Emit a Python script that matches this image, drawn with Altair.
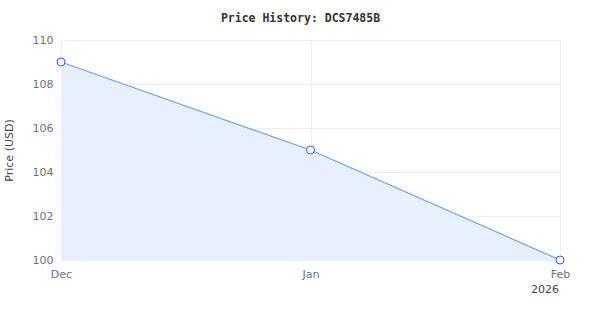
import altair as alt
import pandas as pd

dates = ["2025-12-01", "2026-01-01", "2026-02-01"]
prices = [109, 105, 100]
year_dates = ["2026-02-01"]
year_texts = ["2026"]
y_min, y_max = 100, 110

df = pd.DataFrame({"date": dates, "price": prices})
ydf = pd.DataFrame({"date": year_dates, "label": year_texts})

x = alt.X(
    "date:T",
    title=None,
    scale=alt.Scale(domain=["2025-12-01", "2026-02-01"], nice=False),
    axis=alt.Axis(
        values=dates,
        format="%b",
        labelColor="#6b7280",
        labelFont="DejaVu Sans",
        labelFontSize=11,
        labelPadding=8,
        ticks=False,
        domain=False,
        grid=True,
        gridColor="#eef0f3",
        labelFlush=False,
    ),
)
y = alt.Y(
    "price:Q",
    title="Price (USD)",
    scale=alt.Scale(domain=[y_min, y_max], nice=False, zero=False),
    axis=alt.Axis(
        values=[100, 102, 104, 106, 108, 110],
        labelColor="#6b7280",
        labelFont="DejaVu Sans",
        labelFontSize=11,
        labelPadding=8,
        ticks=False,
        domain=False,
        gridColor="#eceef1",
        titleColor="#444444",
        titleFont="DejaVu Sans",
        titleFontSize=11,
        titleFontWeight="normal",
        titlePadding=18,
    ),
)

base = alt.Chart(df).encode(x=x, y=y)
area = base.mark_area(color="#e8f0fd", opacity=1).encode(y2=alt.datum(y_min))
line = base.mark_line(color="#60a5fa", strokeWidth=1.2)
pts = base.mark_point(shape="circle", filled=True, fill="white", stroke="#2563eb",
                      strokeWidth=1, size=64, opacity=1)
year = alt.Chart(ydf).mark_text(align="right", baseline="middle", color="#444444",
                                font="DejaVu Sans", fontSize=11, dx=-1).encode(
    x=alt.X("date:T"), y=alt.value(250), text="label:N")

chart = alt.layer(area, line, pts, year).properties(
    width=499,
    height=220,
    title=alt.TitleParams(
        "Price History: DCS7485B",
        font="DejaVu Sans Mono",
        fontSize=11.5,
        fontWeight="bold",
        color="#333333",
        offset=10,
        anchor="middle",
        dx=-10,
    ),
    autosize=alt.AutoSizeParams(type="none"),
    padding={"left": 61, "top": 40, "right": 40, "bottom": 60},
).configure_view(stroke="#dddddd", strokeWidth=1)

chart.save("out.html", embed_options={"renderer": "svg", "actions": False})
